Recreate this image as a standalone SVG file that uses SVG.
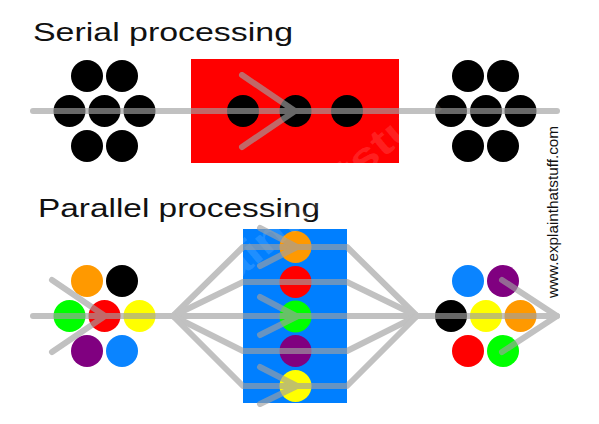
<svg xmlns="http://www.w3.org/2000/svg" width="599" height="424" viewBox="0 0 599 424">
<style>
.title{font-family:"Liberation Sans",Arial,sans-serif;font-size:26px;fill:#111}
.credit{font-family:"Liberation Sans",Arial,sans-serif;font-size:14px;fill:#111}
.wm{font-family:"Liberation Sans",Arial,sans-serif;font-size:40px;font-weight:bold;fill:#ffffff;fill-opacity:0.13}
.ln{fill:none;stroke:#a0a0a0;stroke-width:6;stroke-linecap:round;stroke-linejoin:round}
</style>
<defs>
<circle id="dot" r="16"/>
</defs>
<rect width="599" height="424" fill="#ffffff"/>

<text class="title" x="33" y="41" textLength="260" lengthAdjust="spacingAndGlyphs">Serial processing</text>
<text class="title" x="38" y="216.5" textLength="282" lengthAdjust="spacingAndGlyphs">Parallel processing</text>

<g id="serial-input" fill="#000">
<use href="#dot" x="87" y="76"/><use href="#dot" x="122" y="76"/>
<use href="#dot" x="69.5" y="111"/><use href="#dot" x="104.5" y="111"/><use href="#dot" x="139.5" y="111"/>
<use href="#dot" x="87" y="146"/><use href="#dot" x="122" y="146"/>
</g>
<g id="serial-processor">
<rect x="191" y="59" width="208" height="104" fill="#ff0000"/>
<g fill="#000">
<use href="#dot" x="243" y="111"/><use href="#dot" x="295.5" y="111"/><use href="#dot" x="347" y="111"/>
</g>
</g>
<g id="serial-output" fill="#000">
<use href="#dot" x="468" y="76"/><use href="#dot" x="503" y="76"/>
<use href="#dot" x="451" y="111"/><use href="#dot" x="486" y="111"/><use href="#dot" x="520.5" y="111"/>
<use href="#dot" x="468" y="146"/><use href="#dot" x="503" y="146"/>
</g>

<g id="parallel-input">
<use href="#dot" x="87" y="281" fill="#ff9900"/><use href="#dot" x="122" y="281" fill="#000000"/>
<use href="#dot" x="69.5" y="316" fill="#00ff00"/><use href="#dot" x="104.5" y="316" fill="#ff0000"/><use href="#dot" x="139.5" y="316" fill="#ffff00"/>
<use href="#dot" x="87" y="351" fill="#800080"/><use href="#dot" x="122" y="351" fill="#0a84ff"/>
</g>
<g id="parallel-processor">
<rect x="243" y="229" width="104" height="174" fill="#007fff"/>
<use href="#dot" x="295.5" y="247" fill="#ff9900"/>
<use href="#dot" x="295.5" y="282" fill="#ff0000"/>
<use href="#dot" x="295.5" y="316.5" fill="#00ff00"/>
<use href="#dot" x="295.5" y="351" fill="#800080"/>
<use href="#dot" x="295.5" y="386" fill="#ffff00"/>
</g>
<g id="parallel-output">
<use href="#dot" x="468" y="281" fill="#0a84ff"/><use href="#dot" x="503" y="281" fill="#800080"/>
<use href="#dot" x="451" y="316" fill="#000000"/><use href="#dot" x="486" y="316" fill="#ffff00"/><use href="#dot" x="520.5" y="316" fill="#ff9900"/>
<use href="#dot" x="468" y="351" fill="#ff0000"/><use href="#dot" x="503" y="351" fill="#00ff00"/>
</g>

<text class="wm" x="0" y="0" transform="translate(155,350) rotate(-40)" textLength="380" lengthAdjust="spacingAndGlyphs">explainthatstuff</text>

<g id="connectors" opacity="0.65">
<path class="ln" d="M33,111 H557"/>
<path class="ln" d="M242,75 L295,111 L242,147"/>
<path class="ln" d="M33,316 H557"/>
<path class="ln" d="M52,280 L105,316 L52,352"/>
<path class="ln" d="M502,280 L557,316 L502,352"/>
<path class="ln" d="M173,316 L243,247 H347 L417,316"/>
<path class="ln" d="M173,316 L243,282 H347 L417,316"/>
<path class="ln" d="M173,316 L243,351 H347 L417,316"/>
<path class="ln" d="M173,316 L243,386 H347 L417,316"/>
<path class="ln" d="M260,228 L297,247 L260,266"/>
<path class="ln" d="M260,297 L297,316.5 L260,335"/>
<path class="ln" d="M260,367 L297,386 L260,404"/>
</g>

<text class="credit" x="0" y="0" transform="translate(558,298) rotate(-90)" textLength="172" lengthAdjust="spacingAndGlyphs">www.explainthatstuff.com</text>
</svg>
